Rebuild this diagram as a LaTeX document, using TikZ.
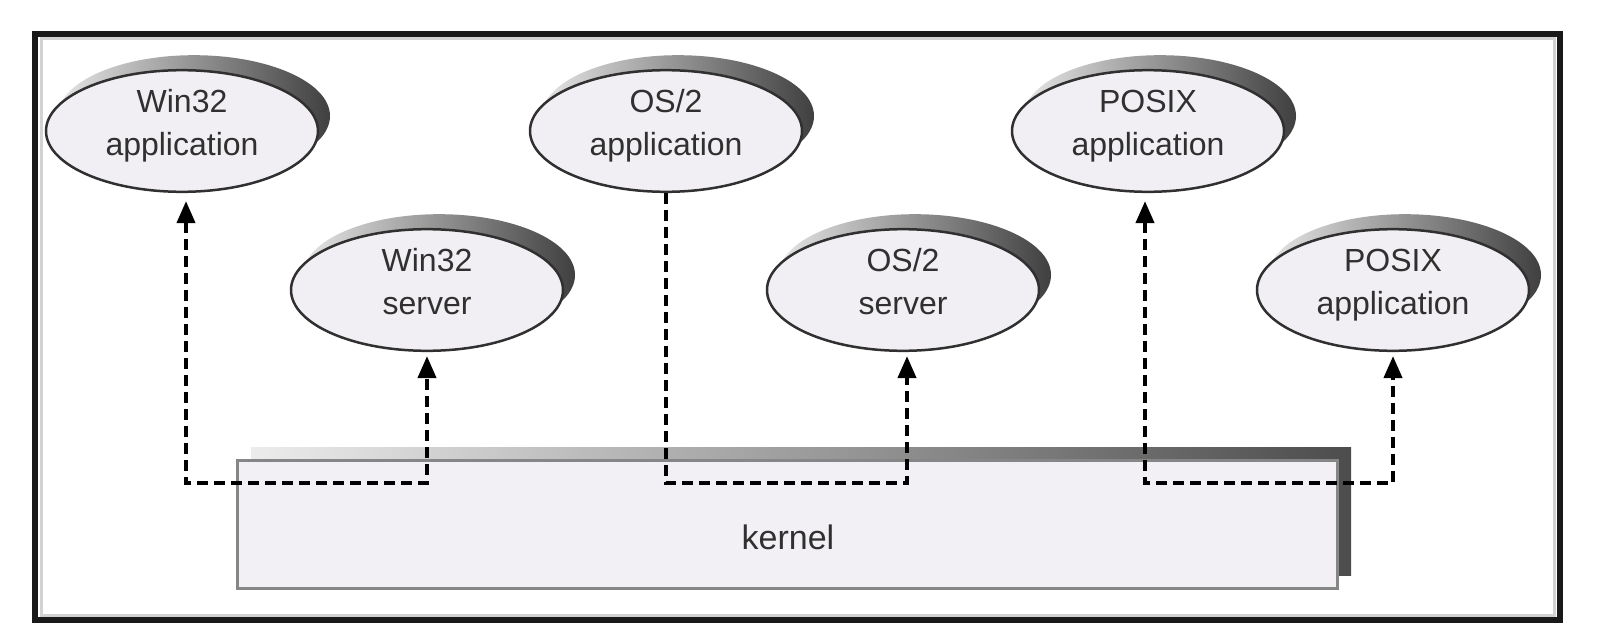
\documentclass[tikz,border=0pt]{standalone}
\usepackage{fontspec}
\setmainfont{Liberation Sans}
\usetikzlibrary{shapes.geometric,arrows.meta,shadows,calc}
\definecolor{ellfill}{HTML}{F1EFF3}
\definecolor{txt}{HTML}{303030}
\definecolor{kfill}{HTML}{F2F0F4}
\newcommand{\eltext}[2]{\raisebox{6pt}[\height][\depth]{\begin{tabular}{@{}c@{}}#1\\#2\end{tabular}}}
\begin{document}
\begin{tikzpicture}[x=1pt,y=-1pt,
  proc/.style={ellipse, draw=txt, line width=2.5pt, fill=ellfill,
    minimum width=272pt, minimum height=116pt, inner sep=0pt,
    font=\fontsize{32}{43}\selectfont, text=txt,
    general shadow={shadow xshift=12pt, shadow yshift=15pt, left color=gray!20, right color=black!75}},
  kbox/.style={draw=gray!95, line width=3pt, fill=kfill, minimum width=1100pt, minimum height=128pt, inner sep=0pt,
    general shadow={shadow xshift=14pt, shadow yshift=13pt, left color=gray!15, right color=black!70}},
  conn/.style={line width=4pt, dash pattern=on 11pt off 6pt, black},
  arr/.style={Triangle[length=22pt,width=18pt]}
]
\useasboundingbox (0,0) rectangle (1600,642);
\fill[white] (0,0) rectangle (1600,642);
\draw[gray!35, line width=3pt] (41,39) rectangle (1554,615);
\draw[black!90, line width=6pt] (35,34) rectangle (1560,620);

\node[kbox] (k) at (787,524) {};
\node[font=\fontsize{34}{40}\selectfont, text=txt] (klabel) at (788,537) {kernel};

\node[proc] (w32app) at (182,131) {\eltext{Win32}{application}};
\node[proc] (os2app) at (666,131) {\eltext{OS/2}{application}};
\node[proc] (pxapp)  at (1148,131) {\eltext{POSIX}{application}};
\node[proc] (w32srv) at (427,290) {\eltext{Win32}{server}};
\node[proc] (os2srv) at (903,290) {\eltext{OS/2}{server}};
\node[proc] (pxapp2) at (1393,290) {\eltext{POSIX}{application}};

\coordinate (bus) at (0,483);
\coordinate (a1) at ([xshift=4pt,yshift=-8pt]w32app.south);
\coordinate (b1) at ([yshift=-4pt]w32srv.south);
\coordinate (a2) at (os2app.south);
\coordinate (b2) at ([xshift=4pt,yshift=-4pt]os2srv.south);
\coordinate (a3) at ([xshift=-3pt,yshift=-8pt]pxapp.south);
\coordinate (b3) at ([yshift=-4pt]pxapp2.south);

\draw[conn, {Triangle[length=22pt,width=18pt]}-{Triangle[length=22pt,width=18pt]}]
  (a1) -- (a1 |- bus) -- (b1 |- bus) -- (b1);
\draw[conn, -{Triangle[length=22pt,width=18pt]}]
  (a2) -- (a2 |- bus) -- (b2 |- bus) -- (b2);
\draw[conn, {Triangle[length=22pt,width=18pt]}-{Triangle[length=22pt,width=18pt]}]
  (a3) -- (a3 |- bus) -- (b3 |- bus) -- (b3);
\end{tikzpicture}
\end{document}
